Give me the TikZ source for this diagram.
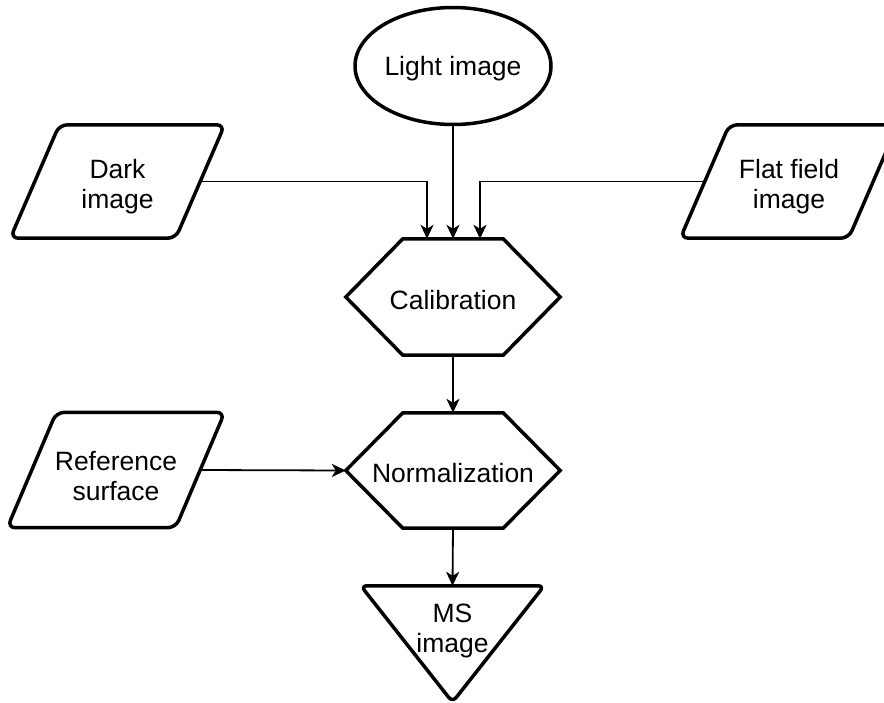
\documentclass[tikz,border=0pt]{standalone}
\usepackage{fontspec}
\setmainfont{Liberation Sans}
\usetikzlibrary{arrows.meta,calc,shapes.geometric}
\begin{document}
\begin{tikzpicture}[x=1pt,y=-1pt,
  txt/.style={font=\fontsize{26.5}{30}\selectfont, align=center, inner sep=0pt},
  shp/.style={inner sep=0pt},
  border/.style={line width=3.5pt, black},
  conn/.style={line width=1.8pt, -{Stealth[length=14pt,width=13pt,inset=4pt]}}
]
\clip (0,0) rectangle (884,702);

% shape nodes
\node[shp, ellipse, draw, line width=3.5pt, minimum width=196pt, minimum height=117pt] (light) at (453,66) {};
\node[shp, minimum width=165pt, minimum height=113pt] (dark) at (117.5,181.5) {};
\node[shp, minimum width=168pt, minimum height=113pt] (flat) at (789,181.5) {};
\node[shp, minimum width=214pt, minimum height=116pt] (calib) at (453,297) {};
\node[shp, minimum width=168pt, minimum height=115pt] (ref) at (116,470) {};
\node[shp, minimum width=214pt, minimum height=115pt] (norm) at (453,470.5) {};
\node[shp, minimum width=183pt, minimum height=116pt] (ms) at (452.5,644) {};

% text nodes
\node[txt] (lightt) at (453,69) {Light image};
\node[txt] (darkt) at (117.5,187) {Dark\\image};
\node[txt] (flatt) at (789,186.5) {Flat field\\image};
\node[txt] (calibt) at (453,300) {Calibration};
\node[txt] (reft) at (116,476) {Reference\\surface};
\node[txt] (normt) at (453,473.5) {Normalization};
\node[txt] (mst) at (452.5,631) {MS\\image};

% shapes
\draw[border, rounded corners=8pt, line join=round]
  ($(dark.north west)+(24.5,0)$) -- ($(dark.north east)+(24.5,0)$) --
  ($(dark.south east)+(-24.5,0)$) -- ($(dark.south west)+(-24.5,0)$) -- cycle;
\draw[border, rounded corners=8pt, line join=round]
  ($(flat.north west)+(24.5,0)$) -- ($(flat.north east)+(24.5,0)$) --
  ($(flat.south east)+(-24.5,0)$) -- ($(flat.south west)+(-24.5,0)$) -- cycle;
\draw[border, rounded corners=8pt, line join=round]
  ($(ref.north west)+(24.5,0)$) -- ($(ref.north east)+(24.5,0)$) --
  ($(ref.south east)+(-24.5,0)$) -- ($(ref.south west)+(-24.5,0)$) -- cycle;
\draw[border]
  (calib.west) -- ($(calib.north west)+(57,0)$) -- ($(calib.north east)+(-57,0)$) --
  (calib.east) -- ($(calib.south east)+(-57,0)$) -- ($(calib.south west)+(57,0)$) -- cycle;
\draw[border]
  (norm.west) -- ($(norm.north west)+(57,0)$) -- ($(norm.north east)+(-57,0)$) --
  (norm.east) -- ($(norm.south east)+(-57,0)$) -- ($(norm.south west)+(57,0)$) -- cycle;
\draw[border, rounded corners=6pt, line join=round]
  (ms.north west) -- (ms.north east) -- (ms.south) -- cycle;

% connectors
\draw[conn] (light.south) -- (calib.north);
\draw[conn] (dark.east) -| ($(calib.north)+(-26,0)$);
\draw[conn] (flat.west) -| ($(calib.north)+(27,0)$);
\draw[conn] (calib.south) -- (norm.north);
\draw[conn] (ref.east) -- (norm.west);
\draw[conn] (norm.south) -- (ms.north);
\end{tikzpicture}
\end{document}
